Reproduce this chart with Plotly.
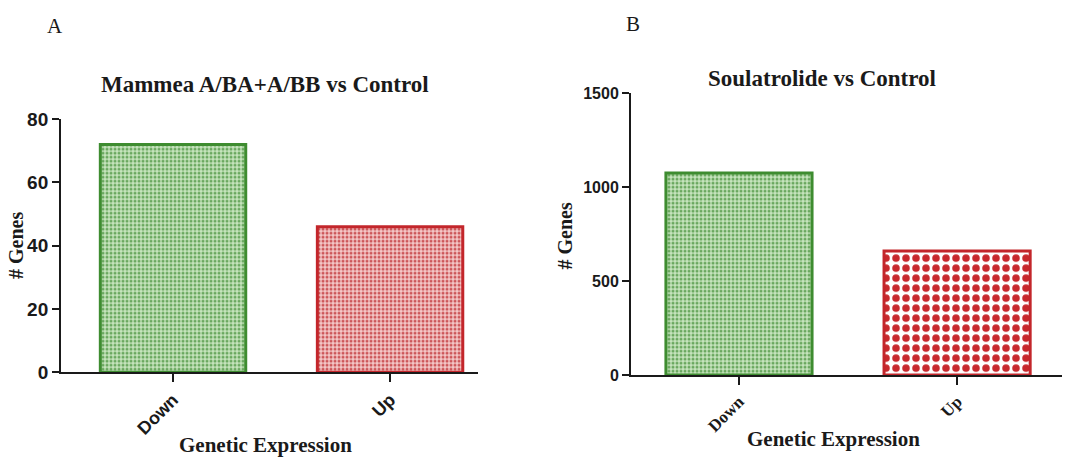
import plotly.graph_objects as go

categories = ["Down", "Up"]
values_a = [72, 46]
values_b = [1075, 660]
title_a = "Mammea A/BA+A/BB vs Control"
title_b = "Soulatrolide vs Control"
yticks_a = [0, 20, 40, 60, 80]
yticks_b = [0, 500, 1000, 1500]

line_colors = ["#3e8c30", "#c3262b"]
fill_a = ["#c6e4bd", "#f4c8c8"]
fg_a = ["#6aa85f", "#cc5659"]
fill_b = ["#c6e4bd", "#ffffff"]
fg_b = ["#6aa85f", "#c8282d"]
pat_size_b = [4, 10]
pat_sol_b = [0.45, 0.45]

fig = go.Figure()
for i, cat in enumerate(categories):
    fig.add_trace(go.Bar(
        x=[cat], y=[values_a[i]], xaxis="x", yaxis="y", width=0.67,
        marker=dict(
            color=fill_a[i],
            line=dict(color=line_colors[i], width=3),
            pattern=dict(shape=".", size=4, solidity=0.45, fgcolor=fg_a[i],
                         fgopacity=1, fillmode="overlay"),
        ),
        showlegend=False,
    ))
    fig.add_trace(go.Bar(
        x=[cat], y=[values_b[i]], xaxis="x2", yaxis="y2", width=0.67,
        marker=dict(
            color=fill_b[i],
            line=dict(color=line_colors[i], width=3),
            pattern=dict(shape=".", size=pat_size_b[i], solidity=pat_sol_b[i],
                         fgcolor=fg_b[i], fgopacity=1, fillmode="overlay"),
        ),
        showlegend=False,
    ))

serif = "Liberation Serif"
sans = "Liberation Sans"

common_y = dict(showline=True, linecolor="#1a1a1a", linewidth=2, ticks="outside",
                ticklen=7, tickwidth=2, tickcolor="#1a1a1a", showgrid=False, zeroline=False)
common_x = dict(showline=True, linecolor="#1a1a1a", linewidth=2, ticks="outside",
                ticklen=8, tickwidth=2, tickcolor="#1a1a1a", showgrid=False, tickangle=-45,
                categoryorder="array", categoryarray=categories)

fig.update_layout(
    width=1065, height=472,
    margin=dict(l=0, r=0, t=0, b=0),
    paper_bgcolor="white", plot_bgcolor="white",
    barmode="overlay",
    xaxis=dict(domain=[0.0573, 0.449], range=[-0.516, 1.406],
               tickfont=dict(family=sans, size=18, color="#1a1a1a", weight="bold"),
               anchor="y", **common_x),
    yaxis=dict(domain=[0.197, 0.758], range=[0, 80], tickvals=yticks_a,
               tickfont=dict(family=sans, size=19, color="#1a1a1a", weight="bold"),
               anchor="x", **common_y),
    xaxis2=dict(domain=[0.5925, 0.997], range=[-0.495, 1.48],
                tickfont=dict(family=serif, size=17, color="#1a1a1a", weight="bold"),
                anchor="y2", **common_x),
    yaxis2=dict(domain=[0.1907, 0.8157], range=[0, 1500], tickvals=yticks_b,
                tickfont=dict(family=sans, size=16, color="#1a1a1a", weight="bold"),
                anchor="x2", **common_y),
)

ann = []
def t(text, x, y, size, family=serif, bold=True, angle=0):
    ann.append(dict(text=("<b>%s</b>" % text) if bold else text, x=x, y=y,
                    xref="paper", yref="paper", xanchor="center", yanchor="middle",
                    showarrow=False, textangle=angle,
                    font=dict(family=family, size=size, color="#1a1a1a")))

t("A", 55 / 1065, 1 - 17 / 472, 21, bold=False)
t("B", 633 / 1065, 1 - 15 / 472, 21, bold=False)
t(title_a, 265 / 1065, 1 - 78 / 472, 23)
t(title_b, 822 / 1065, 1 - 72 / 472, 23)
t("# Genes", 16 / 1065, 1 - 247 / 472, 20, angle=-90)
t("# Genes", 565 / 1065, 1 - 237 / 472, 20, angle=-90)
t("Genetic Expression", 265 / 1065, 1 - 455 / 472, 21)
t("Genetic Expression", 833 / 1065, 1 - 449 / 472, 21)
fig.update_layout(annotations=ann)

fig.write_html("out.html")
